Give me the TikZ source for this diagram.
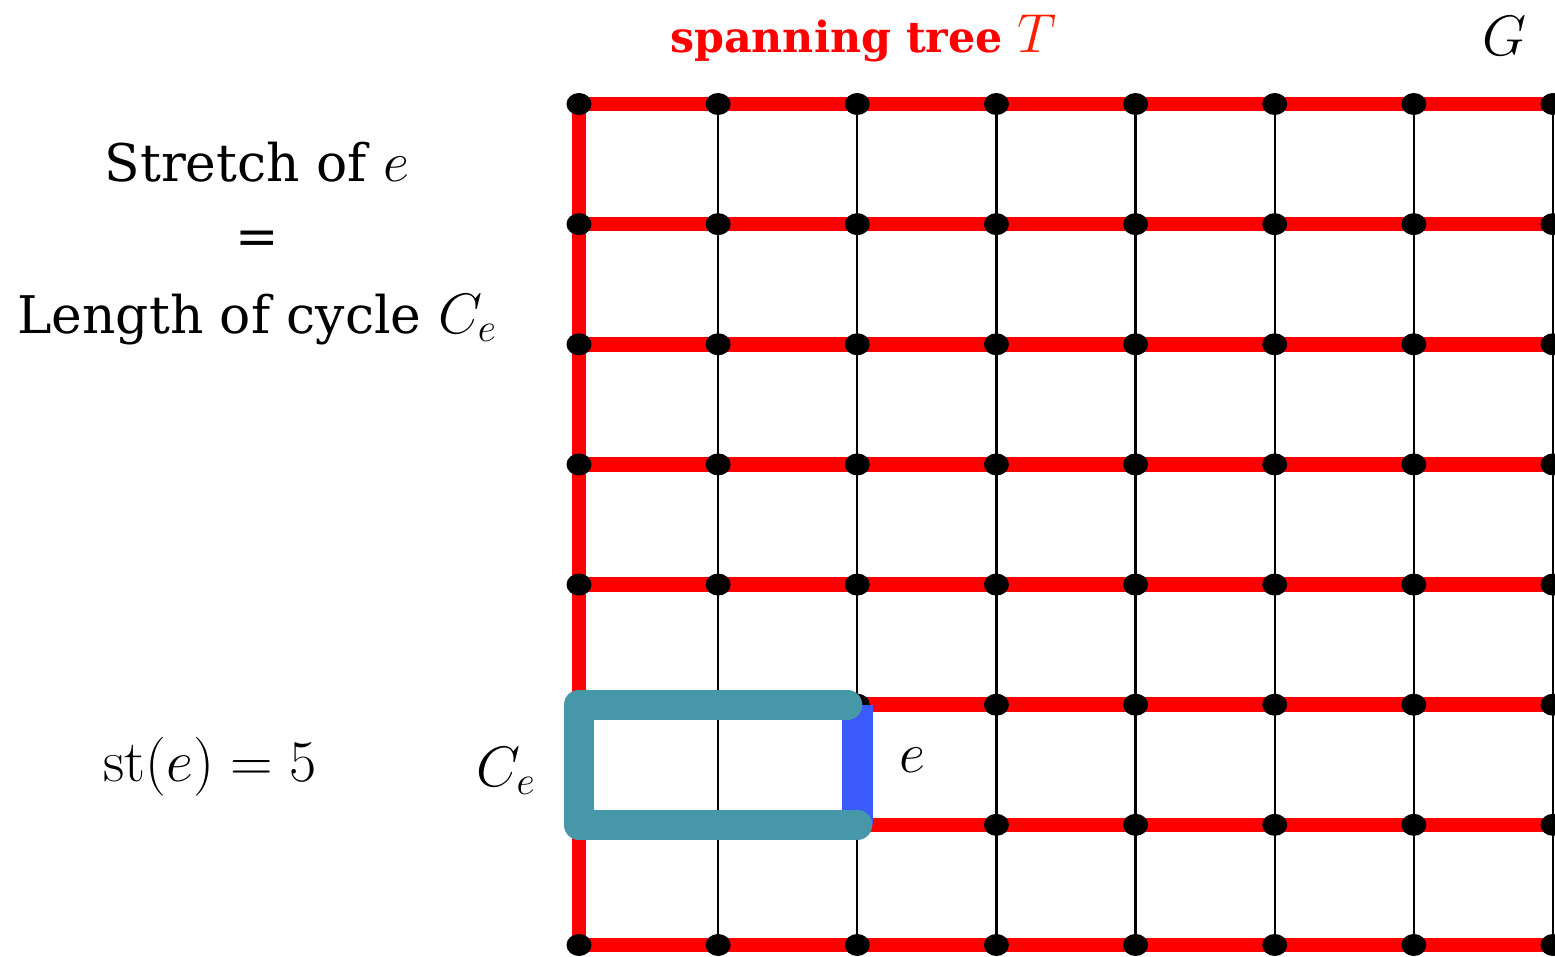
\documentclass[tikz,border=0pt]{standalone}
\usepackage{fix-cm}
\usepackage[no-math]{fontspec}
\setmainfont{DejaVu Serif}[Scale=0.91]
\usetikzlibrary{calc,shapes.geometric}

\definecolor{treered}{RGB}{255,0,0}
\definecolor{titlered}{RGB}{255,30,0}
\definecolor{edgeblue}{RGB}{59,91,255}
\definecolor{cycleteal}{RGB}{70,151,168}

\begin{document}
\begin{tikzpicture}[x=1pt,y=-1pt,
  treeedge/.style={draw=treered,line width=14.5pt},
  graphedge/.style={draw=black,line width=2.2pt},
  vertex/.style={ellipse,fill=black,minimum width=25pt,minimum height=22pt,inner sep=0pt},
  keyedge/.style={draw=edgeblue,line width=31pt},
  cyclepath/.style={draw=cycleteal,line width=30pt,line cap=round,line join=round},
  bigtext/.style={font=\fontsize{57}{68}\selectfont,anchor=base,inner sep=0pt},
  titletext/.style={anchor=base west,inner sep=0pt,text=treered}
]
\useasboundingbox (0,0) rectangle (1555,956);

% grid positions of the 8x8 graph G
\foreach \i in {0,...,7}{
  \foreach \j in {0,...,7}{
    \coordinate (v-\i-\j) at ({579+139.14*\i},{104+120.14*\j});
  }
}

% non-tree edges: vertical lines of columns 1..7
\foreach \i in {1,...,7}{
  \foreach \j in {0,...,6}{
    \pgfmathtruncatemacro{\k}{\j+1}
    \draw[graphedge] (v-\i-\j) -- (v-\i-\k);
  }
}

% spanning tree T: every row plus the left column (a comb)
\foreach \j in {0,...,7}{
  \foreach \i in {0,...,6}{
    \pgfmathtruncatemacro{\k}{\i+1}
    \draw[treeedge] (v-\i-\j) -- (v-\k-\j);
  }
}
\foreach \j in {0,...,6}{
  \pgfmathtruncatemacro{\k}{\j+1}
  \draw[treeedge] (v-0-\j) -- (v-0-\k);
}

% vertices
\foreach \i in {0,...,7}{
  \foreach \j in {0,...,7}{
    \node[vertex] (d-\i-\j) at (v-\i-\j) {};
  }
}

% the edge e and its fundamental cycle C_e
\draw[keyedge] (v-2-5) -- (v-2-6);
\draw[cyclepath] ($(v-2-5)+(-10,0)$) -- (v-0-5) -- (v-0-6) -- (v-2-6);

% labels
\node[bigtext] (stretch) at (257,181) {Stretch of $e$};
\node[bigtext] (equals) at (257,254) {=};
\node[bigtext] (length) at (257,333) {Length of cycle $C_e$};
\node[bigtext,font=\fontsize{59}{70}\selectfont] (stvalue) at (210,781) {$\mathrm{st}(e)=5$};
\node[bigtext] (celabel) at (506,786) {$C_e$};
\node[bigtext] (elabel) at (912,772) {$e$};
\node[bigtext] (glabel) at (1504,55) {$G$};
\node[titletext] (title) at (670,52)
  {{\fontsize{47}{56}\selectfont\bfseries spanning tree\ }%
   {\fontsize{55}{66}\selectfont\color{titlered}$T$}};
\end{tikzpicture}
\end{document}
